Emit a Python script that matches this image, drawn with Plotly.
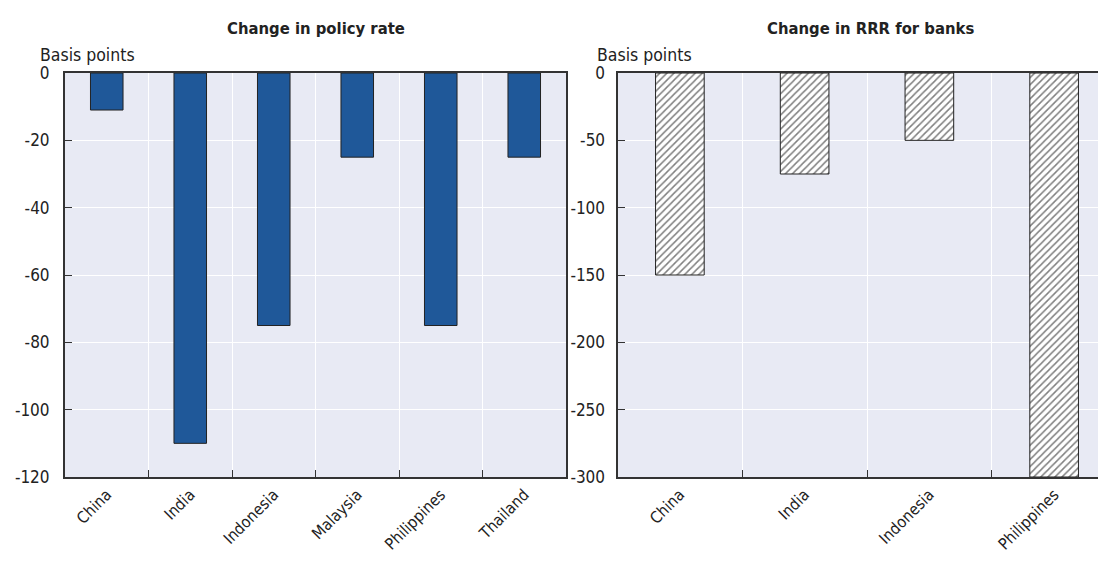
import plotly.graph_objects as go

# data
policy_countries = ['China', 'India', 'Indonesia', 'Malaysia', 'Philippines', 'Thailand']
policy_change = [-11, -110, -75, -25, -75, -25]
policy_ticks = [0, -20, -40, -60, -80, -100, -120]

rrr_countries = ['China', 'India', 'Indonesia', 'Philippines']
rrr_change = [-150, -75, -50, -300]
rrr_ticks = [0, -50, -100, -150, -200, -250, -300]

W, H = 1106, 564
OFF = 8  # page body margin
FONT = "'DejaVu Sans Condensed', 'Liberation Sans', sans-serif"
BLUE = '#1f5899'
BG = '#e8eaf4'
AXIS = '#333333'


def px_x(p):
    return (p - OFF) / W


def px_y(p):
    return 1 - (p - OFF) / H


fig = go.Figure()

fig.add_trace(go.Bar(
    x=policy_countries, y=policy_change,
    marker=dict(color=BLUE, line=dict(color='#222222', width=1)),
    width=0.39, xaxis='x', yaxis='y', showlegend=False,
))

fig.add_trace(go.Bar(
    x=rrr_countries, y=rrr_change,
    marker=dict(color='white', line=dict(color='#222222', width=1),
                pattern=dict(shape='/', fgcolor='#000000', bgcolor='white', size=5, solidity=0.3)),
    width=0.39, xaxis='x2', yaxis='y2', showlegend=False,
))

common_x = dict(
    type='category', tickson='boundaries', ticks='inside', ticklen=7, tickcolor=AXIS,
    showgrid=True, gridcolor='white', gridwidth=1,
    showline=True, linecolor=AXIS, linewidth=2, mirror=True,
    tickangle=-45, tickfont=dict(family=FONT, size=16, color='#222222'),
    automargin=False, fixedrange=True,
)
common_y = dict(
    ticks='inside', ticklen=7, tickcolor=AXIS,
    showgrid=True, gridcolor='white', gridwidth=1, zeroline=False,
    showline=True, linecolor=AXIS, linewidth=2, mirror=True,
    tickfont=dict(family=FONT, size=17, color='#222222'),
    automargin=False, fixedrange=True,
)

ytop, ybot = px_y(73), px_y(477)
right_end = 3.5 - (1116.5 - (W + OFF)) / 124.8

fig.update_layout(
    width=W, height=H,
    margin=dict(l=0, r=0, t=0, b=0),
    paper_bgcolor='white', plot_bgcolor=BG,
    font=dict(family=FONT, color='#222222'),
    xaxis=dict(common_x, domain=[px_x(65), px_x(566)], range=[-0.5, 5.5], anchor='y'),
    yaxis=dict(common_y, domain=[ybot, ytop], range=[-120, 0], anchor='x', ticklabelstandoff=10,
               tickvals=policy_ticks, ticktext=[str(v) for v in policy_ticks]),
    xaxis2=dict(common_x, domain=[px_x(617.5), 1], range=[-0.5, right_end], anchor='y2'),
    yaxis2=dict(common_y, domain=[ybot, ytop], range=[-300, 0], anchor='x2', ticklabelstandoff=7,
                tickvals=rrr_ticks, ticktext=[str(v) for v in rrr_ticks]),
    bargap=0.61,
)

# panel titles and unit labels
for txt, xc in [('<b>Change in policy rate</b>', 315.5), ('<b>Change in RRR for banks</b>', 870)]:
    fig.add_annotation(text=txt, x=px_x(xc), y=px_y(28), xref='paper', yref='paper',
                       xanchor='center', yanchor='middle', showarrow=False,
                       font=dict(family=FONT, size=16.5, color='#222222'))
for xl in [38, 595]:
    fig.add_annotation(text='Basis points', x=px_x(xl), y=px_y(55), xref='paper', yref='paper',
                       xanchor='left', yanchor='middle', showarrow=False,
                       font=dict(family=FONT, size=17.5, color='#222222'))

fig.write_html("out.html")
